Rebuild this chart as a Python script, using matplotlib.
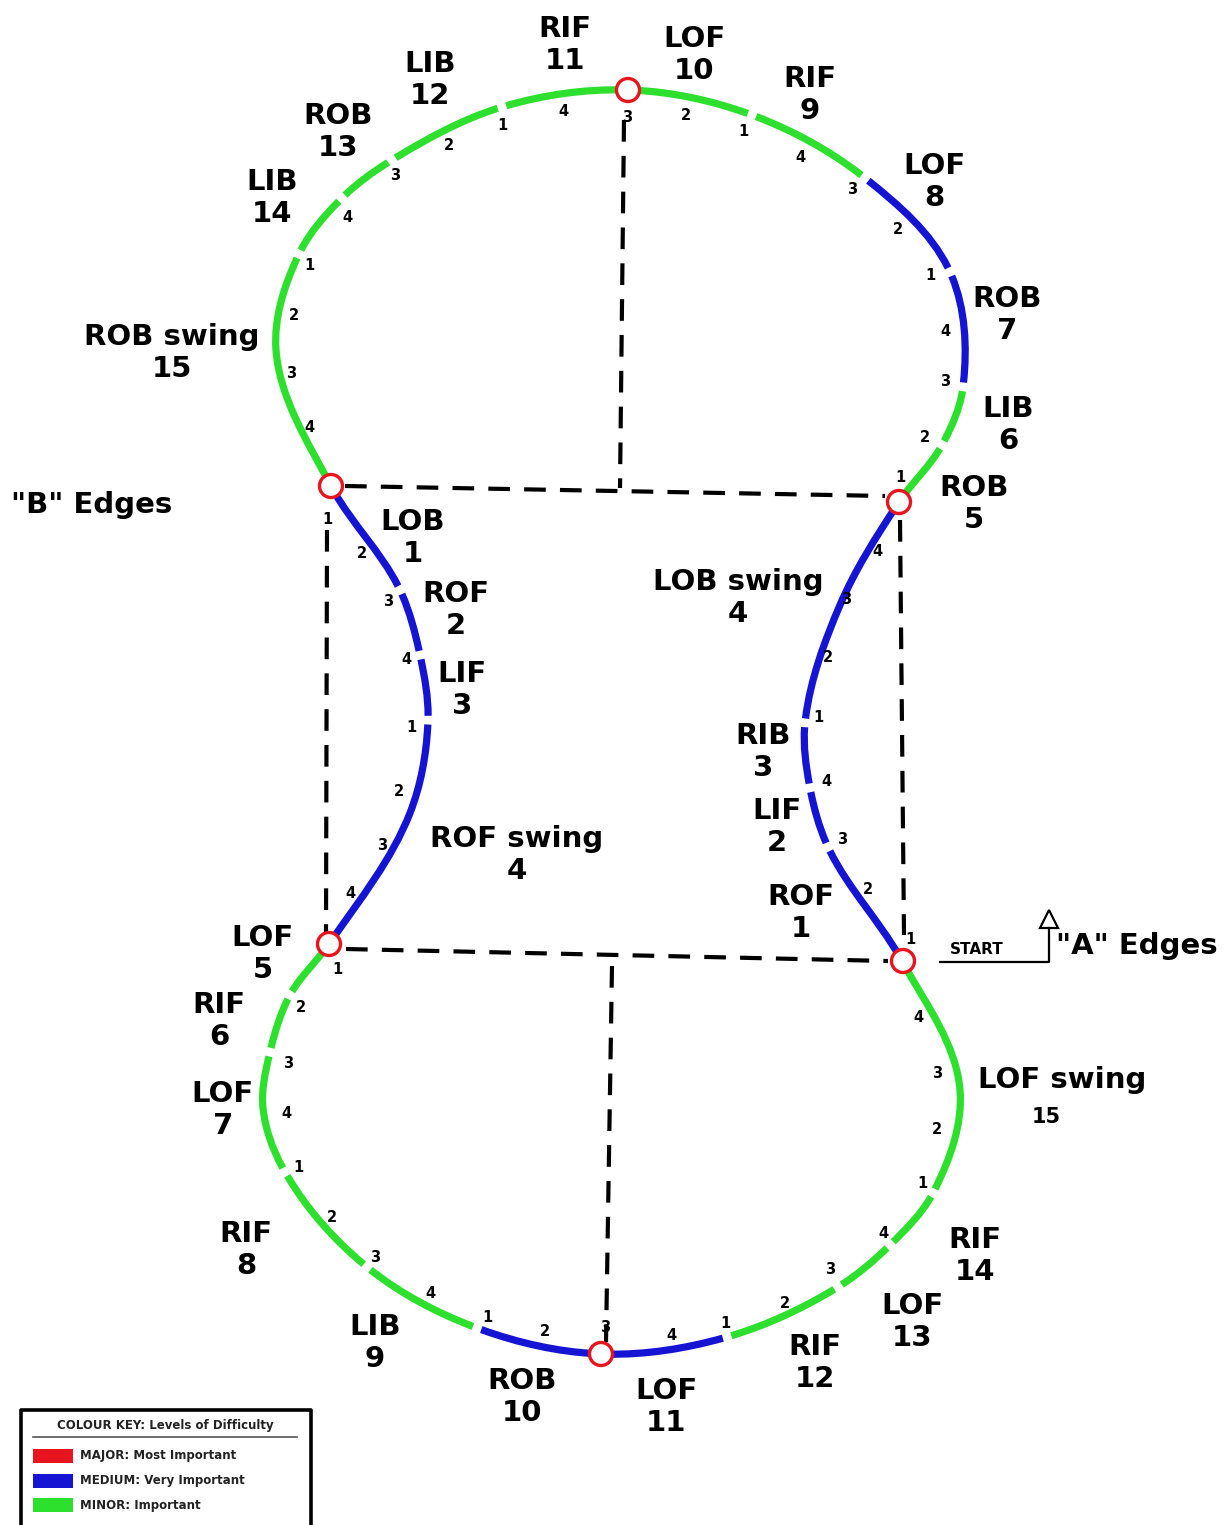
import numpy as np
import matplotlib
matplotlib.use("Agg")
import matplotlib.pyplot as plt
from matplotlib.path import Path
from matplotlib.patches import PathPatch, Circle, Rectangle, Polygon

GREEN = "#2ee02e"
BLUE = "#1414d2"
RED = "#e8141e"

# route of the pattern: one closed line, listed edge by edge.
# each edge = (colour, [points the edge passes through after its start])
start_pt = (899, 502)
edges = [
    ("g", [(942, 445)]),                 # ROB 5
    ("g", [(963, 387)]),                 # LIB 6
    ("b", [(950, 272)]),                 # ROB 7
    ("b", [(865, 178)]),                 # LOF 8
    ("g", [(752, 115)]),                 # RIF 9
    ("g", [(629, 90)]),                  # LOF 10
    ("g", [(502, 107)]),                 # RIF 11
    ("g", [(392, 160)]),                 # LIB 12
    ("g", [(342, 198)]),                 # ROB 13
    ("g", [(299, 254)]),                 # LIB 14
    ("g", [(276, 350), (331, 486)]),     # ROB swing 15
    ("b", [(400, 590)]),                 # LOB 1
    ("b", [(420, 655)]),                 # ROF 2
    ("b", [(428, 720)]),                 # LIF 3
    ("b", [(410, 813), (329, 944)]),     # ROF swing 4
    ("g", [(290, 995)]),                 # LOF 5
    ("g", [(270, 1052)]),                # RIF 6
    ("g", [(263, 1108), (285, 1172)]),   # LOF 7
    ("g", [(367, 1267)]),                # RIF 8
    ("g", [(477, 1328)]),                # LIB 9
    ("b", [(602, 1354)]),                # ROB 10
    ("b", [(727, 1337)]),                # LOF 11
    ("g", [(838, 1287)]),                # RIF 12
    ("g", [(890, 1245)]),                # LOF 13
    ("g", [(933, 1193)]),                # RIF 14
    ("g", [(960, 1090), (902, 961)]),    # LOF swing 15
    ("b", [(828, 847)]),                 # ROF 1
    ("b", [(810, 788)]),                 # LIF 2
    ("b", [(805, 723)]),                 # RIB 3
    ("b", [(840, 605), (899, 502)]),     # LOB swing 4
]

circles = [(628, 90), (331, 486), (899, 502), (329, 944), (903, 961), (601, 1354)]

dashed = [
    ((345, 486), (885, 496)),
    ((624, 120), (620, 488)),
    ((327, 530), (326, 932)),
    ((900, 520), (904, 935)),
    ((346, 949), (888, 961)),
    ((612, 966), (606, 1342)),
]

edge_labels = [
    ("RIF\n11", 565, 45), ("LOF\n10", 694, 55), ("RIF\n9", 810, 95),
    ("LIB\n12", 430, 80), ("ROB\n13", 338, 132), ("LIB\n14", 272, 198),
    ("ROB swing\n15", 172, 353), ("LOF\n8", 934, 182), ("ROB\n7", 1007, 315),
    ("LIB\n6", 1008, 425), ("ROB\n5", 974, 504),
    ("LOB\n1", 413, 538), ("ROF\n2", 456, 610), ("LIF\n3", 462, 690),
    ("ROF swing\n4", 517, 855), ("LOB swing\n4", 738, 598),
    ("RIB\n3", 763, 752), ("LIF\n2", 777, 827), ("ROF\n1", 801, 913),
    ("LOF\n5", 263, 954), ("RIF\n6", 219, 1021), ("LOF\n7", 223, 1110),
    ("RIF\n8", 246, 1250), ("LIB\n9", 375, 1343), ("ROB\n10", 522, 1397),
    ("LOF\n11", 666, 1407), ("RIF\n12", 815, 1363), ("LOF\n13", 912, 1322),
    ("RIF\n14", 975, 1256),
]

beats = [
    # top lobe
    (1, 900, 477), (2, 925, 438), (3, 945, 382), (4, 945, 332), (1, 930, 276),
    (2, 898, 230), (3, 852, 190), (4, 800, 157), (1, 743, 131), (2, 686, 115),
    (3, 627, 118), (4, 563, 112), (1, 502, 125), (2, 449, 146), (3, 395, 176),
    (4, 347, 218), (1, 309, 265), (2, 294, 315), (3, 291, 374), (4, 309, 428),
    # left middle
    (1, 327, 519), (2, 362, 553), (3, 388, 601), (4, 406, 660), (1, 411, 727),
    (2, 399, 791), (3, 382, 845), (4, 350, 894),
    # right middle
    (1, 910, 940), (2, 868, 890), (3, 842, 840), (4, 826, 782), (1, 818, 718),
    (2, 828, 657), (3, 846, 600), (4, 877, 552),
    # bottom lobe
    (1, 337, 970), (2, 301, 1008), (3, 288, 1063), (4, 286, 1114), (1, 298, 1167),
    (2, 332, 1218), (3, 375, 1257), (4, 430, 1293), (1, 487, 1317), (2, 545, 1332),
    (3, 605, 1327), (4, 671, 1336), (1, 725, 1323), (2, 785, 1303), (3, 830, 1270),
    (4, 883, 1234), (1, 922, 1184), (2, 937, 1130), (3, 937, 1074), (4, 918, 1018),
]

key_names = ["MAJOR: Most Important", "MEDIUM: Very Important", "MINOR: Important"]
key_colors = [RED, BLUE, GREEN]


def split(b, t):
    # de Casteljau, returns left and right halves of a cubic
    p0, p1, p2, p3 = b
    a = p0 + (p1 - p0) * t
    c = p1 + (p2 - p1) * t
    d = p2 + (p3 - p2) * t
    e = a + (c - a) * t
    f = c + (d - c) * t
    g = e + (f - e) * t
    return [p0, a, e, g], [g, f, d, p3]


# flatten route to get tangent at every point
pts = [np.array(start_pt, float)]
for col, plist in edges:
    for p in plist:
        pts.append(np.array(p, float))
n = len(pts) - 1          # last point equals the first
tang = []
for i in range(n):
    prev = pts[i - 1] if i > 0 else pts[n - 1]
    nxt = pts[i + 1]
    u = (nxt - pts[i]) / np.linalg.norm(nxt - pts[i])
    v = (pts[i] - prev) / np.linalg.norm(pts[i] - prev)
    t = u + v
    tang.append(t / np.linalg.norm(t))
tang.append(tang[0])

fig = plt.figure(figsize=(12.25, 15.25), dpi=100)
ax = fig.add_axes([0, 0, 1, 1])
ax.set_xlim(0, 1225)
ax.set_ylim(1525, 0)
ax.axis("off")

trim = 4.5
idx = 0
for col, plist in edges:
    pieces = []
    for _ in plist:
        p0, p3 = pts[idx], pts[idx + 1]
        L = np.linalg.norm(p3 - p0)
        b = [p0, p0 + tang[idx] * L / 3, p3 - tang[idx + 1] * L / 3, p3]
        pieces.append((b, L))
        idx += 1
    b, L = pieces[0]
    pieces[0] = (split(b, trim / L)[1], L)
    b, L = pieces[-1]
    pieces[-1] = (split(b, 1 - trim / L)[0], L)
    verts = [pieces[0][0][0]]
    codes = [Path.MOVETO]
    for b, L in pieces:
        verts += [b[1], b[2], b[3]]
        codes += [Path.CURVE4] * 3
    ax.add_patch(PathPatch(Path(verts, codes), fc="none",
                           ec=GREEN if col == "g" else BLUE, lw=5.2,
                           capstyle="butt", zorder=3))

for (x0, y0), (x1, y1) in dashed:
    ax.plot([x0, x1], [y0, y1], color="black", lw=3.0,
            linestyle=(0, (5.2, 3.4)), zorder=2)

for cx, cy in circles:
    ax.add_patch(Circle((cx, cy), 11.5, fc="white", ec=RED, lw=2.4, zorder=5))

for txt, x, y in edge_labels:
    ax.text(x, y, txt, ha="center", va="center", fontsize=21, weight="bold",
            linespacing=1.2, zorder=6)
ax.text(1062, 1080, "LOF swing", ha="center", va="center", fontsize=21, weight="bold")
ax.text(1046, 1117, "15", ha="center", va="center", fontsize=15, weight="bold")
ax.text(92, 505, '"B" Edges', ha="center", va="center", fontsize=21, weight="bold")
ax.text(1137, 946, '"A" Edges', ha="center", va="center", fontsize=21, weight="bold")

for num, x, y in beats:
    ax.text(x, y, str(num), ha="center", va="center", fontsize=10.5, weight="bold", zorder=6)

# start marker
ax.text(977, 949, "START", ha="center", va="center", fontsize=11, weight="bold")
ax.plot([940, 1049, 1049], [962, 962, 928], color="black", lw=1.6)
ax.add_patch(Polygon([(1040, 928), (1058, 928), (1049, 910)], closed=True,
                     fc="white", ec="black", lw=1.6))

# colour key
ax.plot([21, 21, 311, 311], [1530, 1410, 1410, 1530], color="black", lw=2.6)
ax.text(165, 1426, "COLOUR KEY: Levels of Difficulty", ha="center", va="center",
        fontsize=8.5, weight="bold", color="#222222")
ax.plot([33, 297], [1437, 1437], color="#555555", lw=1.2)
for i, (name, c) in enumerate(zip(key_names, key_colors)):
    y = 1456 + i * 24.5
    ax.add_patch(Rectangle((33, y - 7), 40, 14, fc=c, ec="none"))
    ax.text(80, y, name, ha="left", va="center", fontsize=8.5, weight="bold",
            color="#222222")

fig.savefig("out.png", dpi=100)
